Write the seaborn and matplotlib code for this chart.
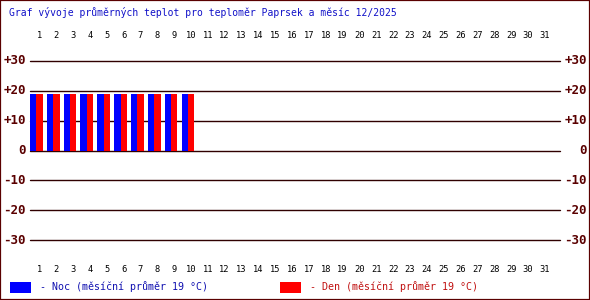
import matplotlib
matplotlib.use("Agg")
import matplotlib.pyplot as plt
import matplotlib.transforms as mtransforms
from matplotlib.patches import Rectangle
import seaborn as sns
import pandas as pd

# ---- data ----
title = "Graf vývoje průměrných teplot pro teploměr Paprsek a měsíc 12/2025"
days = [1, 2, 3, 4, 5, 6, 7, 8, 9, 10]
all_days = list(range(1, 32))
noc = [19, 19, 19, 19, 19, 19, 19, 19, 19, 19]
den = [19, 19, 19, 19, 19, 19, 19, 19, 19, 19]
y_ticks = [30, 20, 10, 0, -10, -20, -30]
y_labels = ["+30", "+20", "+10", "0", "-10", "-20", "-30"]
legend_noc = "- Noc (měsíční průměr 19 °C)"
legend_den = "- Den (měsíční průměr 19 °C)"

df = pd.DataFrame({
    "day": days * 2,
    "value": noc + den,
    "series": ["Noc"] * len(days) + ["Den"] * len(days),
})

W, H = 590, 300
sns.set_theme(style="white")
plt.rcParams["font.family"] = ["DejaVu Sans Mono", "DejaVu Sans"]
fig = plt.figure(figsize=(W / 100, H / 100), dpi=100, facecolor="white")

def fx(px):
    return px / W

def fy(py):
    return 1 - py / H

ax = fig.add_axes([fx(30), fy(240), fx(560) - fx(30), fy(61) - fy(240)])
ax.set_facecolor("white")

grid_col = "#300000"
for t in y_ticks:
    ax.axhline(t, color=grid_col, lw=1.0, zorder=0, clip_on=False)

sns.barplot(data=df, x="day", y="value", hue="series", order=all_days,
            hue_order=["Noc", "Den"], palette={"Noc": "#0000ff", "Den": "#ff0000"},
            width=0.754, dodge=True, saturation=1, legend=False, ax=ax, zorder=2)
for p in ax.patches:
    p.set_edgecolor("none")

ax.set_xlim(-0.374, 31.08)
ax.set_ylim(-30, 30)
ax.axis("off")

# y labels both sides
lab_col = "#5a0000"
for t, lab in zip(y_ticks, y_labels):
    yy = fy(150.5 - t * 179 / 60)
    fig.text(fx(26), yy, lab, ha="right", va="center", fontsize=9,
             fontweight="bold", color=lab_col)
    fig.text(fx(587), yy, lab, ha="right", va="center", fontsize=9,
             fontweight="bold", color=lab_col)

# day labels top and bottom
trans = mtransforms.blended_transform_factory(ax.transData, fig.transFigure)
for d in all_days:
    for py in (35, 269):
        ax.text(d - 1 + 0.18, fy(py), str(d), transform=trans, ha="center",
                va="center", fontsize=6.3, color="black", clip_on=False)

# title
fig.text(fx(9), fy(12), title, ha="left", va="center", fontsize=7,
         color="#1010c8")

# legend
fig.patches.append(Rectangle((fx(10), fy(293)), fx(21), 11 / H,
                             transform=fig.transFigure, facecolor="#0000ff",
                             edgecolor="none"))
fig.text(fx(40), fy(287), legend_noc, ha="left", va="center", fontsize=7.2,
         color="#1010b0")
fig.patches.append(Rectangle((fx(280), fy(293)), fx(21), 11 / H,
                             transform=fig.transFigure, facecolor="#ff0000",
                             edgecolor="none"))
fig.text(fx(310), fy(287), legend_den, ha="left", va="center", fontsize=7.2,
         color="#c01010")

# frame
fig.patches.append(Rectangle((0, 0), 1, 1, transform=fig.transFigure,
                             fill=False, edgecolor="#5a0000", lw=1.6))

fig.savefig("out.png", dpi=100, facecolor="white")
